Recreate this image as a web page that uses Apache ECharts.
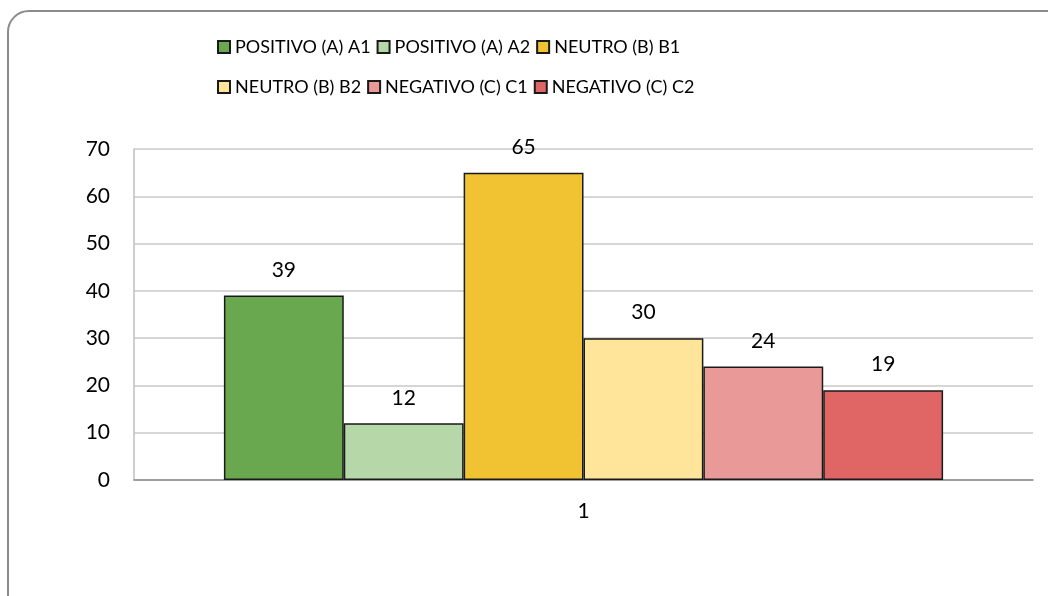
<!DOCTYPE html>
<html>
<head>
<meta charset="utf-8">
<script src="https://cdn.jsdelivr.net/npm/echarts@6/dist/echarts.min.js"></script>
<style>
  html, body { margin: 0; padding: 0; background: #fff; }
  #frame {
    position: absolute; left: 7px; top: 10px;
    width: 1060px; height: 620px;
    border: 2px solid #8c8c8c; border-radius: 22px;
  }
  #chart { position: absolute; left: 0; top: 0; width: 1048px; height: 596px; }
</style>
</head>
<body>
<div id="frame"></div>
<div id="chart"></div>
<script>
  // 类目与数据
  const categories = ["1"];
  const seriesNames = [
    "POSITIVO (A) A1",
    "POSITIVO (A) A2",
    "NEUTRO (B) B1",
    "NEUTRO (B) B2",
    "NEGATIVO (C) C1",
    "NEGATIVO (C) C2"
  ];
  const seriesValues = [39, 12, 65, 30, 24, 19];
  const colorList = ["#6aa84f", "#b6d7a8", "#f1c232", "#ffe599", "#ea9999", "#e06666"];
  const yTicks = { min: 0, max: 70, interval: 10 };

  const font = "Lato, 'Noto Sans', sans-serif";

  let chart = echarts.init(document.getElementById("chart"));

  let series = seriesNames.map((name, i) => ({
    name: name,
    type: "bar",
    barGap: 0,
    barCategoryGap: "20%",
    data: [seriesValues[i]],
    itemStyle: {
      color: colorList[i],
      borderColor: "#1a1a1a",
      borderWidth: 1.5
    },
    label: {
      show: true,
      position: "top",
      distance: 15,
      color: "#000",
      fontFamily: font,
      fontSize: 21
    }
  }));

  // 图例：两行，每行三项，宽度固定
  function legendRow(names, top) {
    return {
      data: names,
      left: 217,
      top: top,
      padding: 0,
      itemWidth: 12,
      itemHeight: 12,
      itemGap: 6,
      icon: "rect",
      selectedMode: false,
      textStyle: {
        color: "#000",
        fontFamily: font,
        fontSize: 18,
        width: 137
      }
    };
  }

  let option = {
    animation: false,
    color: colorList,
    legend: [legendRow(seriesNames.slice(0, 3), 38), legendRow(seriesNames.slice(3), 78)],
    grid: { left: 134, right: 15, top: 149, bottom: 116, containLabel: false },
    xAxis: {
      type: "category",
      data: categories,
      axisTick: { show: false },
      axisLine: { show: true, lineStyle: { color: "#8c8c8c", width: 1.5 } },
      axisLabel: { color: "#000", fontFamily: font, fontSize: 21, margin: 21 }
    },
    yAxis: {
      type: "value",
      min: yTicks.min,
      max: yTicks.max,
      interval: yTicks.interval,
      axisLine: { show: true, lineStyle: { color: "#bfbfbf", width: 1.5 } },
      axisTick: { show: false },
      splitLine: { lineStyle: { color: "#c8c8c8", width: 1.5 } },
      axisLabel: { color: "#000", fontFamily: font, fontSize: 21, margin: 24 }
    },
    series: series
  };

  chart.setOption(option);
</script>
</body>
</html>
